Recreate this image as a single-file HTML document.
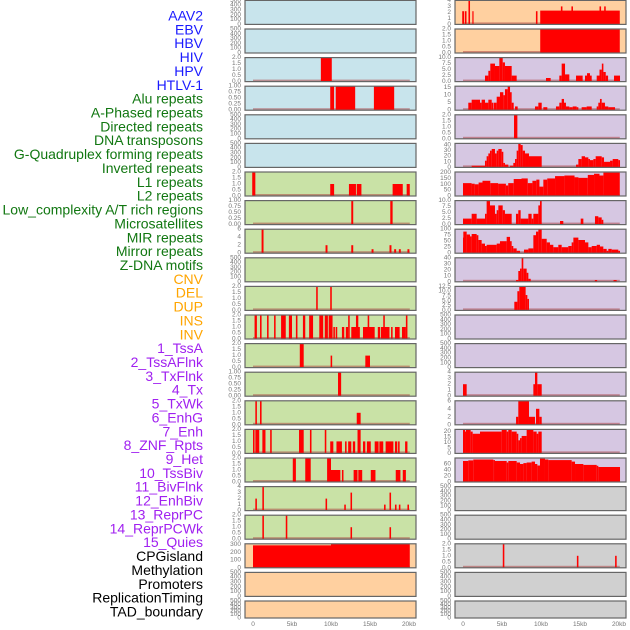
<!DOCTYPE html>
<html><head><meta charset="utf-8"><style>
body{margin:0;background:#fff}
svg{display:block}
.lab{font-family:"Liberation Sans",sans-serif;font-size:14px}
.tk{font-family:"Liberation Sans",sans-serif;font-size:6.5px;fill:#777}
</style></head><body>
<svg id="chart" width="630" height="630" viewBox="0 0 630 630"></svg>
<script>
const trackLabels=["AAV2","EBV","HBV","HIV","HPV","HTLV-1","Alu repeats","A-Phased repeats","Directed repeats","DNA transposons","G-Quadruplex forming repeats","Inverted repeats","L1 repeats","L2 repeats","Low_complexity A/T rich regions","Microsatellites","MIR repeats","Mirror repeats","Z-DNA motifs","CNV","DEL","DUP","INS","INV","1_TssA","2_TssAFlnk","3_TxFlnk","4_Tx","5_TxWk","6_EnhG","7_Enh","8_ZNF_Rpts","9_Het","10_TssBiv","11_BivFlnk","12_EnhBiv","13_ReprPC","14_ReprPCWk","15_Quies","CPGisland","Methylation","Promoters","ReplicationTiming","TAD_boundary"];
const labelGroups=[6,13,5,15,5];
const xTickLabels=["0","5kb","10kb","15kb","20kb"];
const xTickValues=[0,5,10,15,20];
const leftScale=[500,500,2,1,500,500,2,1,6,500,2,2,2,1,2,2,2,4,2,310,500,500];
const rightScale=[4,2,10,16,2,43,205,10,100,40,12.5,500,500,4,6,22,80,500,500,2,500,500];
const leftTicks=[[0,100,200,300,400,500],[0,100,200,300,400,500],[0,0.5,1,1.5,2],[0,0.25,0.5,0.75,1],[0,100,200,300,400,500],[0,100,200,300,400,500],[0,0.5,1,1.5,2],[0,0.25,0.5,0.75,1],[0,2,4,6],[0,100,200,300,400,500],[0,0.5,1,1.5,2],[0,0.5,1,1.5,2],[0,0.5,1,1.5,2],[0,0.25,0.5,0.75,1],[0,0.5,1,1.5,2],[0,0.5,1,1.5,2],[0,0.5,1,1.5,2],[0,1,2,3,4],[0,0.5,1,1.5,2],[0,100,200,300],[0,100,200,300,400,500],[0,100,200,300,400,500]];
const rightTicks=[[0,1,2,3,4],[0,0.5,1,1.5,2],[0,2.5,5,7.5,10],[0,5,10,15],[0,0.5,1,1.5,2],[0,10,20,30,40],[0,50,100,150,200],[0,2.5,5,7.5,10],[0,25,50,75,100],[0,10,20,30,40],[0,2.5,5,7.5,10,12.5],[0,100,200,300,400,500],[0,100,200,300,400,500],[0,1,2,3,4],[0,2,4,6],[0,5,10,15,20],[0,20,40,60],[0,100,200,300,400,500],[0,100,200,300,400,500],[0,0.5,1,1.5,2],[0,100,200,300,400,500],[0,100,200,300,400,500]];
const L3=[[8.7,10.1,2]];
const L4=[[9.9,10.4,1],[10.6,13.1,1],[15.5,18.1,1]];
const L7=[[-0.1,0.3,2],[9.9,10.4,1],[12.3,13.2,1],[13.3,13.9,1],[17.9,19.2,1],[19.7,20.1,1]];
const L8=[[12.6,12.85,1],[17.6,17.9,1]];
const L9=[[1.1,1.35,6],[9.3,9.55,2],[12.6,12.85,2],[15.2,15.45,1],[17.5,17.75,2],[18.1,18.35,1],[18.7,18.95,1],[19.8,20.05,1]];
const L11=[[8.1,8.3,2],[9.9,10.1,2]];
const L12=[[0.2,0.5,2],[0.9,1.1,2],[1.8,2.0,2],[2.7,2.9,2],[3.6,4.2,2],[4.6,5.0,2],[5.5,5.7,2],[6.4,6.7,2],[7.2,7.7,2],[8.5,9.0,2],[9.2,9.6,2],[9.7,10.2,2],[12.2,12.4,2],[13.2,13.5,2],[14.7,14.9,2],[16.7,16.9,2],[19.6,19.8,2],[10.3,10.5,1],[10.6,10.8,1],[11.4,11.7,1],[11.9,12.2,1],[12.6,13.7,1],[14.1,15.6,1],[16.0,16.3,1],[16.4,17.5,1],[17.7,17.9,1],[18.2,18.8,1],[19.1,19.6,1]];
const L13=[[6.0,6.5,2],[9.95,10.15,1],[14.4,15.0,1]];
const L14=[[10.9,11.3,1]];
const L15=[[0.3,0.5,2],[0.9,1.1,2],[13.3,13.8,1]];
const L16=[[0,0.2,2],[0.3,0.8,2],[1.2,1.6,2],[2.2,2.4,2],[5.9,6.5,2],[7.3,7.5,2],[9.2,9.4,2],[13.4,13.8,2],[9.9,10.3,1],[10.7,11.4,1],[11.8,12.0,1],[12.2,12.6,1],[12.8,13.1,1],[14.1,14.4,1],[14.6,15.1,1],[15.6,16.1,1],[16.2,16.7,1],[17.0,17.5,1],[17.5,18.0,1],[18.2,18.5,1],[18.6,18.8,1],[19.5,19.8,1]];
const L17=[[5.1,5.5,2],[6.7,7.4,2],[9.5,10.0,2],[10.0,11.2,1],[11.4,11.6,1],[12.9,13.4,1],[13.5,14.0,1],[15.1,15.7,1],[18.3,18.9,1],[19.2,19.6,1]];
const L18=[[0.3,0.5,2],[1.2,1.4,4],[9.3,9.5,2],[11.7,11.9,1],[12.5,12.7,3],[16.8,17.0,1],[17.5,17.7,3],[18.2,18.4,1],[18.7,18.9,1],[19.8,20.0,1]];
const L19=[[1.2,1.4,2],[4.2,4.4,2],[12.5,12.7,1],[17.5,17.7,1]];
const L20=[[0,10,290],[10,20.1,310]];
const R1=[[-0.1,0.15,2.2],[0.25,0.45,2.2],[0.7,0.9,4],[1.2,1.35,2.2],[9.35,9.55,2.2],[9.9,20.1,2.3],[12.55,12.75,3],[13.9,14.1,3],[17.5,17.7,3],[18.1,18.3,3]];
const R2=[[9.9,20.1,2]];
const R3=[[2.82,3.25,2.5],[3.25,3.5,4.5],[3.5,4.1,7.5],[4.1,4.66,6.5],[4.66,5.09,10],[5.09,5.38,8],[5.38,6.24,6.5],[6.24,6.88,2.5],[10.64,11.24,1.5],[12.35,12.65,2.5],[12.65,13.08,7.5],[13.08,13.63,3],[14.49,15.34,2.5],[15.64,15.9,2.5],[15.9,16.28,3.5],[16.28,16.5,2.5],[17.14,17.5,2.5],[17.5,17.8,5],[17.8,18.0,7.5],[18.0,18.3,4],[18.3,18.6,2.5],[19.36,20.13,2.5]];
const R4=[[0.68,1.11,5],[1.11,1.54,7],[1.54,2.18,7],[2.18,2.39,5],[2.39,2.82,7],[2.82,3.25,5],[3.25,3.68,7],[3.68,3.89,5],[3.95,4.32,5],[4.32,4.74,9],[4.74,5.17,12],[5.17,5.38,10],[5.38,5.73,14],[5.73,6.03,16],[6.03,6.24,12],[6.24,6.5,5],[6.67,7.01,2.5],[9.23,9.66,2.5],[9.66,10.09,5],[10.3,10.81,2],[11.92,12.35,2.5],[12.35,12.65,5],[12.65,12.95,7.5],[12.95,13.2,5],[13.2,13.63,2.5],[13.63,14.06,2],[14.06,14.57,2.5],[14.57,14.79,2],[15.21,15.85,2],[15.85,16.5,2.5],[17.14,17.35,2.5],[17.35,17.56,5],[17.56,17.78,7.5],[17.78,18.2,5],[18.2,18.63,2.5],[18.63,19.49,2]];
const R5=[[6.54,6.97,2]];
const R6=[[1.11,2.82,3],[2.82,3.03,12],[3.03,3.25,20],[3.25,3.46,25],[3.46,3.68,30],[3.68,4.1,33],[4.1,4.32,25],[4.32,4.53,30],[4.53,4.96,33],[4.96,5.17,28],[5.17,5.38,8],[5.38,5.81,5],[6.03,6.45,3],[6.45,6.67,8],[6.67,6.88,15],[6.88,7.09,30],[7.09,7.39,43],[7.39,7.65,40],[7.65,7.95,30],[7.95,8.46,25],[8.46,10.09,20],[14.49,14.79,5],[14.79,15.21,15],[15.21,15.64,20],[15.64,16.07,18],[16.07,16.28,15],[16.28,16.71,13],[16.71,17.01,15],[17.01,17.78,20],[17.78,18.08,18],[18.08,18.85,10],[18.85,19.19,12],[19.19,19.91,15],[19.91,20.13,13]];
const R7=[[0,1.1,110],[1.1,1.5,105],[1.5,2,100],[2,2.5,115],[2.5,3.5,130],[3.5,4.5,110],[4.5,5.5,105],[5.5,5.8,90],[5.8,6.5,110],[6.5,7.5,145],[7.5,8.3,150],[8.3,8.9,110],[8.9,9.4,130],[9.4,9.8,140],[9.8,10.3,80],[10.3,10.8,140],[10.8,11.8,150],[11.8,13,170],[13,14.3,175],[14.3,14.8,160],[14.8,16,155],[16,16.8,180],[16.8,17.5,190],[17.5,18,175],[18,20.1,200]];
const R8=[[0,1.11,2.5],[1.11,1.75,4.5],[1.75,2.82,2.5],[2.82,3.03,4.5],[3.03,3.46,10],[3.46,4.1,8],[4.1,4.32,4.5],[4.32,4.53,6],[4.53,5.09,8],[5.09,5.38,6],[5.38,6.24,4.5],[6.79,7.09,4.5],[7.09,7.39,6],[7.39,8.38,2.5],[8.38,8.8,4.5],[8.8,9.02,2.5],[9.02,9.66,4.5],[9.66,9.87,8],[9.87,10.09,10],[12.44,12.86,1.5],[15.09,15.43,2.5],[16.92,17.35,3.5],[17.35,17.78,3],[17.78,17.99,2]];
const R9=[[0,0.04,65],[0.04,0.47,90],[0.47,0.9,78],[0.9,1.11,70],[1.11,1.75,80],[1.75,1.97,75],[1.97,2.39,55],[2.39,2.82,40],[2.82,3.03,30],[3.03,4.32,35],[4.32,4.74,40],[4.74,5.6,50],[5.6,6.03,68],[6.03,6.24,50],[6.24,6.45,30],[6.45,6.88,20],[6.88,7.31,10],[7.82,8.38,15],[8.38,9.02,20],[9.02,9.36,75],[9.36,9.66,90],[9.66,10.09,100],[10.09,10.73,60],[10.73,11.15,45],[11.15,11.58,35],[11.58,12.22,25],[12.22,12.65,35],[12.65,13.5,25],[13.5,13.93,30],[13.93,14.15,45],[14.15,14.79,65],[14.79,15.64,55],[15.64,16.07,45],[16.07,16.5,25],[16.5,17.14,30],[17.14,17.56,35],[17.56,17.99,28],[17.99,18.42,18],[18.42,18.63,10],[18.63,19.06,18],[19.06,19.91,15],[19.91,20.13,10]];
const R10=[[6.8,7.09,3],[7.09,7.31,18],[7.31,7.52,22],[7.52,7.73,40],[7.73,8.16,22],[8.16,8.38,15],[8.38,8.68,5],[16.9,17.2,3],[19.3,19.7,3]];
const R11=[[6.58,6.97,4.5],[6.97,7.22,10],[7.22,8.03,12.5],[8.03,8.25,8],[8.25,8.46,6]];
const R14=[[0,0.47,2],[9.02,9.23,2],[9.23,9.53,4],[9.53,10.09,2]];
const R15=[[6.8,7.09,2],[7.09,8.46,6],[8.46,9.23,2],[9.36,9.79,4],[9.79,10.09,2]];
const R16=[[0,0.26,22],[0.26,0.38,20],[0.38,0.98,22],[0.98,1.24,20],[1.24,2.18,18],[2.18,4.96,20],[4.96,5.6,22],[5.6,5.81,20],[5.81,6.24,22],[6.24,6.88,20],[6.88,7.09,18],[7.09,7.31,12],[7.31,7.52,14],[7.52,8.16,16],[8.16,9.02,22],[9.02,9.44,20],[9.44,9.66,18],[9.66,10.09,20]];
const R17=[[0,0.68,70],[0.68,1.32,72],[1.32,3.89,75],[3.89,4.1,73],[4.1,5.6,70],[5.6,5.81,65],[5.81,6.88,70],[6.88,7.31,65],[7.31,7.74,60],[7.74,8.16,63],[8.16,8.8,65],[8.8,9.23,68],[9.23,9.53,60],[9.53,9.87,55],[9.87,10.51,78],[10.51,10.94,75],[10.94,13.93,73],[13.93,14.36,68],[14.36,15.43,60],[15.43,17.14,57],[17.14,17.35,54],[17.35,20.13,50]];
const R20=[[5.1,5.3,2],[14.6,14.8,1],[19.5,19.7,1]];

const leftData=[null,null,L3,L4,null,null,L7,L8,L9,null,L11,L12,L13,L14,L15,L16,L17,L18,L19,L20,null,null];
const rightData=[R1,R2,R3,R4,R5,R6,R7,R8,R9,R10,R11,null,null,R14,R15,R16,R17,null,null,R20,null,null];

const NS="http://www.w3.org/2000/svg";
const svg=document.getElementById('chart');
function mk(tag,attrs,parent){const e=document.createElementNS(NS,tag);for(const k in attrs)e.setAttribute(k,attrs[k]);(parent||svg).appendChild(e);return e;}
const labelColors=["#1a1aff","#117711","#ffa500","#a020f0","#000000"];
let gi=0,cnt=0;
trackLabels.forEach((t,i)=>{
  while(cnt>=labelGroups[gi]){cnt=0;gi++;}
  cnt++;
  const el=mk('text',{x:203,y:15.5+13.86*i,'text-anchor':'end','dominant-baseline':'central',class:'lab',fill:labelColors[gi]});
  el.textContent=t;
  
  
});
function rowTop(k){return 0.4+28.6*k;}
function rowH(k){return k===21?17:24;}
function bgColor(col,k){
  if(col===0){if(k<6)return'#c8e4ec';if(k<19)return'#c9e2a6';return'#ffd0a0';}
  if(k<2)return'#ffd0a0';if(k<17)return'#d6c7e2';return'#d0d0d0';
}
function fmt(v,ticks){
  const mx=ticks[ticks.length-1];
  if(mx===1)return v.toFixed(2);
  if(mx===2||mx===10||mx===12.5||mx===7.5)return v.toFixed(1);
  return String(v);
}
function drawPanel(col,k){
  const x0=col===0?245:455, w=171, top=rowTop(k), h=rowH(k);
  const ymax=col===0?leftScale[k]:rightScale[k];
  const ticks=col===0?leftTicks[k]:rightTicks[k];
  const data=col===0?leftData[k]:rightData[k];
  const g=mk('g',{});
  
  
  mk('rect',{x:x0,y:top,width:w,height:h,fill:bgColor(col,k)},g);
  const xs=kb=>x0+8+7.8*kb;
  const ys=v=>top+h-(v/ymax)*h;
  if(data){
    mk('rect',{x:xs(0),y:top+h-2,width:7.8*20.1,height:2,fill:'rgba(170,60,60,0.5)'},g);
    data.forEach(d=>{
      const r=mk('rect',{x:xs(d[0]),y:ys(Math.min(d[2],ymax)),width:Math.max(1.2,xs(d[1])-xs(d[0])),height:top+h-ys(Math.min(d[2],ymax)),fill:'#ff0000'},g);
      
      
    });
  }
  mk('rect',{x:x0,y:top,width:w,height:h,fill:'none',stroke:'#666',"stroke-width":1.2},g);
  ticks.forEach(tv=>{
    const t=mk('text',{x:x0-4,y:ys(tv),'text-anchor':'end','dominant-baseline':'central',class:'tk'},g);
    t.textContent=fmt(tv,ticks);
    
    
  });
}
for(let k=0;k<22;k++){drawPanel(0,k);drawPanel(1,k);}
[245,455].forEach(x0=>{
  xTickValues.forEach((v,i)=>{
    const t=mk('text',{x:x0+8+7.8*v,y:626,'text-anchor':'middle',class:'tk','font-size':'7'});
    t.textContent=xTickLabels[i];
    
    
  });
});
</script>
</body></html>
